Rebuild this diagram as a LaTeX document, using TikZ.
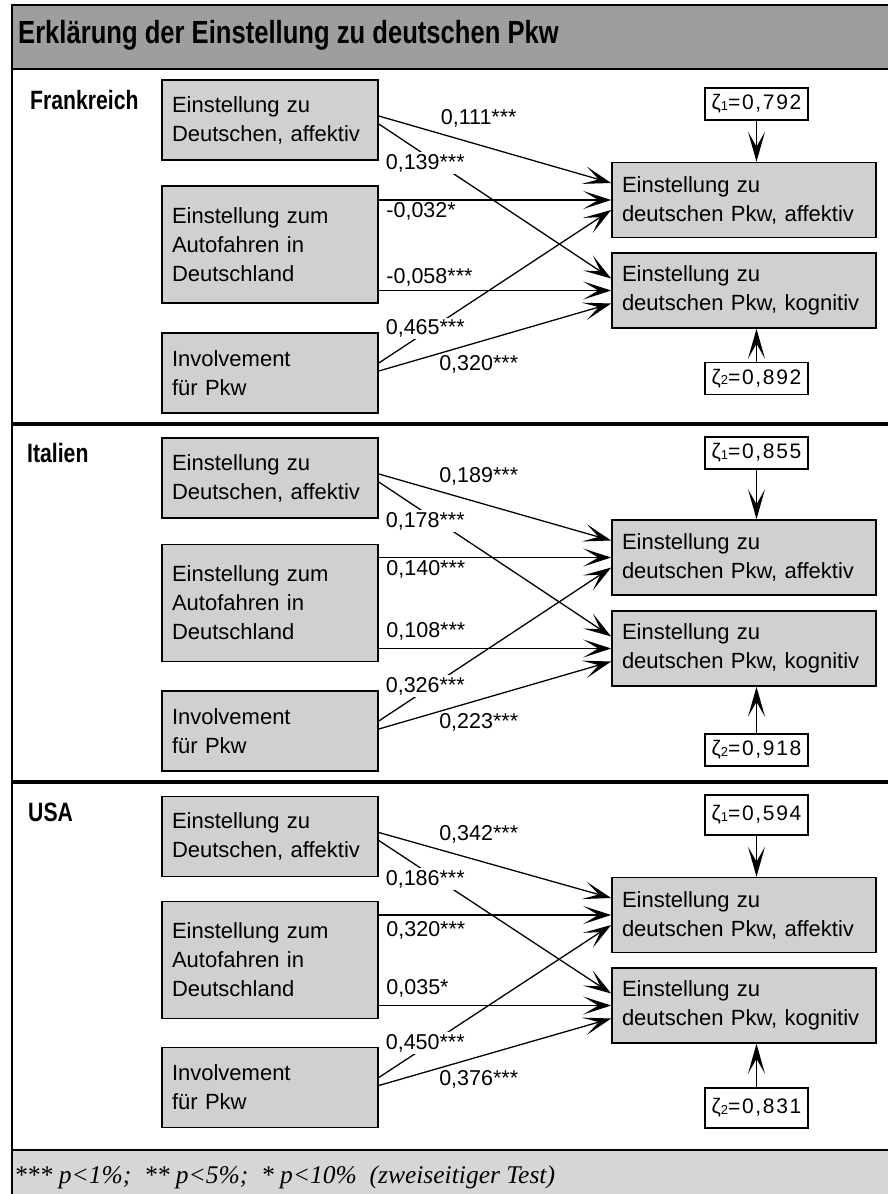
\documentclass[tikz,border=0pt]{standalone}
\usepackage{fontspec}
\setmainfont{Liberation Sans}
\newfontfamily\condfont[FakeStretch=0.8]{Liberation Sans}
\newfontfamily\zetafont[LetterSpace=8]{Liberation Sans}
\newfontfamily\notefont{Liberation Serif}
\usetikzlibrary{positioning,arrows.meta}
\definecolor{barfill}{RGB}{158,158,158}
\definecolor{boxfill}{RGB}{208,208,208}
\definecolor{notefill}{RGB}{214,214,214}
\newcommand{\zsub}[1]{\raisebox{-0.5pt}{\fontsize{13}{13}\selectfont #1}}
\tikzset{
  leftbox/.style={draw, line width=1.6pt, fill=boxfill, text width=196pt,
                  inner xsep=10pt, inner ysep=0pt, minimum height=80pt,
                  align=left, font=\fontsize{22}{29}\selectfont},
  tallbox/.style={leftbox, minimum height=117pt},
  rightbox/.style={leftbox, text width=244pt, minimum height=75pt},
  zetabox/.style={draw, line width=1.3pt, fill=white, minimum width=103pt,
                  minimum height=32pt, inner sep=0pt,
                  font=\zetafont\fontsize{21}{21}\selectfont},
  land/.style={anchor=west, inner sep=0pt,
               font=\condfont\bfseries\fontsize{26.5}{26.5}\selectfont},
  coef/.style={inner sep=2pt, font=\fontsize{21.5}{21.5}\selectfont},
  coefgap/.style={coef, fill=white},
  arrow/.style={-{Stealth[length=28pt, width=18pt, inset=15pt]}, line width=1.3pt},
  zarrow/.style={-{Stealth[length=30pt, width=17pt, inset=15pt]}, line width=1.3pt},
}

\begin{document}
\begin{tikzpicture}[x=1pt, y=1pt]
  \useasboundingbox (0,0) rectangle (887,-1194);

  % frame, title bar and legend strip
  \fill[barfill] (12,-5) rectangle (890,-69);
  \fill[notefill] (12,-1150) rectangle (890,-1196);
  \draw[line width=2pt] (890,-5) -- (12,-5) -- (12,-1196);
  \draw[line width=1.5pt] (12,-69) -- (890,-69);
  \draw[line width=4pt] (12,-424) -- (890,-424);
  \draw[line width=4pt] (12,-782) -- (890,-782);
  \draw[line width=1.5pt] (12,-1150) -- (890,-1150);
  \node[anchor=west, inner sep=0pt, font=\condfont\bfseries\fontsize{32}{32}\selectfont]
    (title) at (18,-35) {Erklärung der Einstellung zu deutschen Pkw};
  \node[anchor=west, inner sep=0pt, font=\notefont\itshape\fontsize{25.5}{25.5}\selectfont]
    (note) at (14,-1177) {*** p<1\%; \ ** p<5\%; \ * p<10\% \ (zweiseitiger Test)};

  % Frankreich
  \node[land] (frName) at (30,-100) {Frankreich};
  \node[leftbox] (frA) at (270,-120) {Einstellung zu\\Deutschen, affektiv};
  \node[tallbox] (frB) at (270,-244.5) {Einstellung zum\\Autofahren in\\Deutschland};
  \node[leftbox] (frC) at (270,-373) {Involvement\\für Pkw};
  \node[rightbox] (frAff) at (744,-200) {Einstellung zu\\deutschen Pkw, affektiv};
  \node[rightbox] (frKog) at (744,-290.5) {Einstellung zu\\deutschen Pkw, kognitiv};
  \node[zetabox] (frZ1) at (756.5,-104) {ζ\zsub{1}=0,792};
  \node[zetabox] (frZ2) at (756.5,-378.5) {ζ\zsub{2}=0,892};

  \draw[arrow] ([yshift=4pt]frA.east) -- node[coef, pos=.43, above=15pt]{0,111***} ([yshift=17pt]frAff.west);
  \draw[arrow] ([yshift=-4pt]frA.east) -- node[coefgap, pos=.2, yshift=-8pt]{0,139***} ([yshift=12pt]frKog.west);
  \draw[arrow] (frB.east |- frAff.west) -- node[coef, pos=0, anchor=north west, xshift=5pt]{-0,032*} (frAff.west);
  \draw[arrow] (frB.east |- frKog.west) -- node[coef, pos=0, anchor=south west, xshift=5pt, yshift=2pt]{-0,058***} (frKog.west);
  \draw[arrow] ([yshift=10pt]frC.east) -- node[coefgap, pos=.2, yshift=4pt]{0,465***} ([yshift=-10pt]frAff.west);
  \draw[arrow] ([yshift=2pt]frC.east) -- node[coef, pos=.43, below=11pt]{0,320***} ([yshift=-13pt]frKog.west);
  \draw[zarrow] (frZ1.south) -- (frZ1.south |- frAff.north);
  \draw[zarrow] (frZ2.north) -- (frZ2.north |- frKog.south);

  % Italien
  \node[land] (itName) at (27,-453) {Italien};
  \node[leftbox] (itA) at (270,-478) {Einstellung zu\\Deutschen, affektiv};
  \node[tallbox] (itB) at (270,-603) {Einstellung zum\\Autofahren in\\Deutschland};
  \node[leftbox] (itC) at (270,-731) {Involvement\\für Pkw};
  \node[rightbox] (itAff) at (744,-557.5) {Einstellung zu\\deutschen Pkw, affektiv};
  \node[rightbox] (itKog) at (744,-648.5) {Einstellung zu\\deutschen Pkw, kognitiv};
  \node[zetabox] (itZ1) at (756.5,-453) {ζ\zsub{1}=0,855};
  \node[zetabox] (itZ2) at (756.5,-750) {ζ\zsub{2}=0,918};

  \draw[arrow] ([yshift=4pt]itA.east) -- node[coef, pos=.43, above=15pt]{0,189***} ([yshift=17pt]itAff.west);
  \draw[arrow] ([yshift=-4pt]itA.east) -- node[coefgap, pos=.2, yshift=-8pt]{0,178***} ([yshift=12pt]itKog.west);
  \draw[arrow] (itB.east |- itAff.west) -- node[coef, pos=0, anchor=north west, xshift=5pt]{0,140***} (itAff.west);
  \draw[arrow] (itB.east |- itKog.west) -- node[coef, pos=0, anchor=south west, xshift=5pt, yshift=6pt]{0,108***} (itKog.west);
  \draw[arrow] ([yshift=10pt]itC.east) -- node[coefgap, pos=.2, yshift=4pt]{0,326***} ([yshift=-10pt]itAff.west);
  \draw[arrow] ([yshift=2pt]itC.east) -- node[coef, pos=.43, below=11pt]{0,223***} ([yshift=-13pt]itKog.west);
  \draw[zarrow] (itZ1.south) -- (itZ1.south |- itAff.north);
  \draw[zarrow] (itZ2.north) -- (itZ2.north |- itKog.south);

  % USA
  \node[land] (usName) at (28,-812) {USA};
  \node[leftbox] (usA) at (270,-836.5) {Einstellung zu\\Deutschen, affektiv};
  \node[tallbox] (usB) at (270,-960) {Einstellung zum\\Autofahren in\\Deutschland};
  \node[leftbox] (usC) at (270,-1087.5) {Involvement\\für Pkw};
  \node[rightbox] (usAff) at (744,-915) {Einstellung zu\\deutschen Pkw, affektiv};
  \node[rightbox] (usKog) at (744,-1005.5) {Einstellung zu\\deutschen Pkw, kognitiv};
  \node[zetabox, minimum height=40pt] (usZ1) at (756.5,-815) {ζ\zsub{1}=0,594};
  \node[zetabox, minimum height=40pt] (usZ2) at (756.5,-1108) {ζ\zsub{2}=0,831};

  \draw[arrow] ([yshift=4pt]usA.east) -- node[coef, pos=.43, above=15pt]{0,342***} ([yshift=17pt]usAff.west);
  \draw[arrow] ([yshift=-4pt]usA.east) -- node[coefgap, pos=.2, yshift=-8pt]{0,186***} ([yshift=12pt]usKog.west);
  \draw[arrow] (usB.east |- usAff.west) -- node[coef, pos=0, anchor=north west, xshift=5pt, yshift=-4pt]{0,320***} (usAff.west);
  \draw[arrow] (usB.east |- usKog.west) -- node[coef, pos=0, anchor=south west, xshift=5pt, yshift=6pt]{0,035*} (usKog.west);
  \draw[arrow] ([yshift=10pt]usC.east) -- node[coefgap, pos=.2, yshift=4pt]{0,450***} ([yshift=-10pt]usAff.west);
  \draw[arrow] ([yshift=2pt]usC.east) -- node[coef, pos=.43, below=11pt]{0,376***} ([yshift=-13pt]usKog.west);
  \draw[zarrow] (usZ1.south) -- (usZ1.south |- usAff.north);
  \draw[zarrow] (usZ2.north) -- (usZ2.north |- usKog.south);
\end{tikzpicture}
\end{document}
